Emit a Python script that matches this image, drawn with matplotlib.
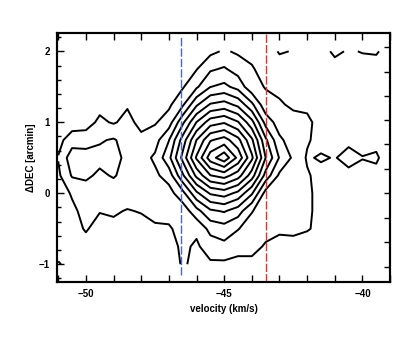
import numpy as np
import matplotlib
matplotlib.use("Agg")
import matplotlib.pyplot as plt

plt.rcParams['font.family'] = ['Liberation Sans', 'DejaVu Sans']
plt.rcParams['font.weight'] = 'bold'

# velocity channels (km/s) and declination offsets (arcmin) of the map
velocity = [-51.0, -50.5, -50.0, -49.5, -49.0, -48.5, -48.0, -47.5, -47.0,
            -46.5, -46.0, -45.5, -45.0, -44.5, -44.0, -43.5, -43.0, -42.5,
            -42.0, -41.5, -41.0, -40.5, -40.0, -39.5, -39.0]
dec = [2.0, 1.75, 1.5, 1.25, 1.0, 0.75, 0.5, 0.25, 0.0, -0.25, -0.5, -0.75, -1.0]

# intensity (rows follow dec, columns follow velocity)
intensity = [
    [0.3, 0.3, 0.3, 0.3, 0.3, 0.3, 0.3, 0.3, 0.3, 0.3, 0.4, 0.75, 1.12, 0.85, 0.7, 0.4, 1.1, 0.95, 0.3, 0.6, 1.2, 0.9, 1.05, 1.1, 0.6],
    [0.3, 0.3, 0.3, 0.35, 0.4, 0.4, 0.35, 0.4, 0.45, 0.5, 0.95, 1.86, 2.12, 1.57, 1.1, 0.6, 0.5, 0.4, 0.4, 0.4, 0.6, 0.5, 0.6, 0.6, 0.4],
    [0.3, 0.35, 0.4, 0.5, 0.5, 0.6, 0.45, 0.5, 0.6, 0.9, 1.84, 2.98, 3.25, 2.66, 1.3, 0.95, 0.8, 0.6, 0.6, 0.4, 0.4, 0.4, 0.4, 0.4, 0.3],
    [0.35, 0.4, 0.5, 0.7, 0.7, 0.9, 0.55, 0.6, 0.8, 1.83, 3.83, 5.1, 5.4, 4.73, 3.22, 1.3, 1.1, 0.85, 0.85, 0.5, 0.4, 0.4, 0.4, 0.4, 0.3],
    [0.4, 0.5, 0.6, 1.2, 0.9, 1.3, 0.7, 0.9, 1.5, 3.78, 6.03, 7.53, 7.9, 7.09, 5.33, 2.64, 1.5, 1.3, 1.15, 0.75, 0.5, 0.5, 0.5, 0.5, 0.4],
    [0.7, 1.5, 1.5, 1.9, 2.1, 1.6, 1.25, 1.6, 2.96, 5.43, 8.01, 9.9, 10.42, 9.32, 7.19, 4.2, 2.2, 1.5, 1.1, 0.7, 0.75, 0.8, 0.8, 0.8, 0.5],
    [1.05, 2.6, 2.5, 2.3, 2.4, 1.7, 1.6, 2.17, 3.71, 6.31, 9.14, 11.54, 12.7, 10.73, 8.22, 5.0, 2.92, 1.81, 0.9, 1.1, 0.95, 1.3, 1.02, 1.1, 0.6],
    [0.8, 2.1, 2.2, 1.8, 2.1, 1.6, 1.6, 1.8, 2.42, 4.82, 7.25, 8.96, 9.4, 8.45, 6.49, 3.62, 1.8, 1.5, 1.1, 0.7, 0.7, 0.75, 0.8, 0.8, 0.5],
    [0.5, 1.1, 1.5, 1.3, 1.4, 1.4, 1.4, 1.6, 1.6, 2.67, 4.77, 6.12, 6.45, 5.73, 4.13, 1.6, 1.5, 1.4, 1.15, 0.75, 0.5, 0.5, 0.5, 0.5, 0.4],
    [0.4, 0.8, 1.3, 1.05, 1.1, 0.95, 1.05, 1.3, 1.3, 1.4, 2.64, 3.82, 4.1, 3.48, 2.06, 1.4, 1.4, 1.3, 1.15, 0.75, 0.4, 0.4, 0.4, 0.4, 0.3],
    [0.4, 0.6, 1.1, 0.6, 0.8, 0.6, 0.7, 0.85, 0.9, 1.3, 1.2, 2.31, 2.57, 2.05, 1.5, 1.3, 1.1, 1.2, 1.05, 0.85, 0.4, 0.3, 0.3, 0.3, 0.3],
    [0.5, 0.5, 0.6, 0.4, 0.4, 0.4, 0.45, 0.5, 0.6, 1.2, 0.85, 1.47, 1.72, 1.3, 1.3, 0.9, 0.8, 0.7, 0.7, 0.5, 0.3, 0.3, 0.3, 0.3, 0.3],
    [1.1, 0.6, 0.4, 0.3, 0.3, 0.3, 0.35, 0.4, 0.5, 1.1, 0.8, 0.85, 0.8, 0.75, 0.75, 0.7, 0.5, 0.4, 0.4, 0.3, 0.3, 0.3, 0.3, 0.3, 0.3],
]
levels = [1, 2, 3, 4, 5, 6, 7, 8, 9, 10, 11, 12]

v_blue = -46.55
v_red = -43.49
right_ticks = [2.065, 1.713, 1.370, 1.032, 0.690, 0.342, 0.0, -0.348, -0.690, -1.034]

fig = plt.figure(figsize=(4.15, 3.46), dpi=100)
ax = fig.add_axes([0.137, 0.185, 0.803, 0.72])

z = np.flipud(np.array(intensity))
ax.contour(velocity, dec[::-1], z, levels=levels, colors='black',
           linewidths=1.4, linestyles='solid')

ax.vlines(v_blue, -1.15, 2.2, colors='#4f63d8', linestyles=(0, (6, 1.5)), linewidth=1.0)
ax.vlines(v_red, -1.25, 2.26, colors='#e8302c', linestyles=(0, (6, 1.5)), linewidth=1.0)

ax.set_xlim(-51.05, -39.03)
ax.set_ylim(-1.25, 2.26)

ax.set_xticks([-50, -45, -40])
ax.set_xticks(np.arange(-51, -38), minor=True)
ax.set_yticks([-1, 0, 1, 2])
ax.set_yticks(np.arange(-1.2, 2.21, 0.2), minor=True)
ax.tick_params(which='both', direction='in', top=True, right=False, width=1.0,
               labelsize=7, pad=5)
ax.tick_params(axis='x', which='both', length=5)
ax.tick_params(axis='y', which='major', length=5)
ax.tick_params(axis='y', which='minor', length=3)

ax2 = ax.twinx()
ax2.set_ylim(-1.25, 2.26)
ax2.set_yticks(right_ticks)
ax2.tick_params(direction='in', length=4, width=1.0, labelright=False)

for a in (ax, ax2):
    for s in a.spines.values():
        s.set_linewidth(1.5)

ax.set_xlabel('velocity (km/s)', fontsize=7, fontweight='bold', labelpad=4)
ax.set_ylabel('ΔDEC [arcmin]', fontsize=7, fontweight='bold', labelpad=2)

fig.savefig('out.png', dpi=100)
plt.close(fig)
